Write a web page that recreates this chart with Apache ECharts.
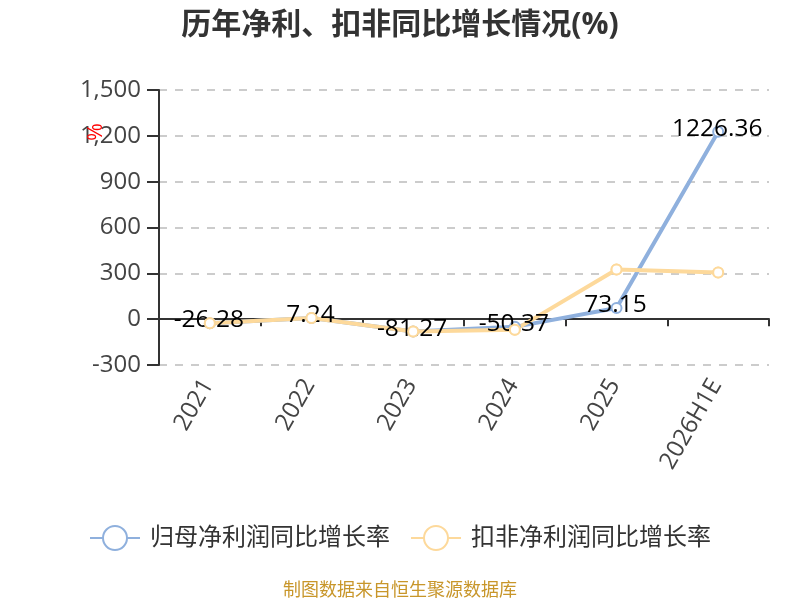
<!DOCTYPE html>
<html><head><meta charset="utf-8">
<style>html,body{margin:0;padding:0;background:#fff}#c{width:800px;height:600px}</style>
<script src="https://cdn.jsdelivr.net/npm/echarts@6/dist/echarts.min.js"></script>
</head><body><div id="c"></div>
<script>
const categories = ['2021','2022','2023','2024','2025','2026H1E'];
const parentGrowth = [-26.28,7.24,-81.27,-50.37,73.15,1226.36];
const nonRecurringGrowth = [-26,7,-81,-70,325,305];
const seriesNames = ['归母净利润同比增长率','扣非净利润同比增长率'];
const colors = ['#8fb0dd','#fdd99b'];
const FONT = '"Open Sans","Noto Sans CJK SC",sans-serif';
const chart = echarts.init(document.getElementById('c'));
chart.setOption({
  animation:false,
  textStyle:{fontFamily:FONT},
  title:{text:'历年净利、扣非同比增长情况(%)',left:'center',top:5,
    textStyle:{fontSize:30,fontWeight:'bold',color:'#333',fontFamily:FONT}},
  legend:{data:seriesNames,bottom:44,left:'center',itemWidth:50,itemHeight:30,itemGap:20,
    textStyle:{fontSize:24,color:'#333',fontFamily:FONT,padding:[0,0,0,5]}},
  grid:{left:159,right:31,top:90,bottom:235},
  xAxis:{type:'category',data:categories,
    axisLine:{onZero:true,lineStyle:{color:'#333',width:2}},
    axisTick:{show:true,inside:false,length:7,lineStyle:{color:'#333',width:2}},
    axisLabel:{rotate:60,fontSize:24,color:'#444',margin:12.5,padding:[0,4,0,0],interval:0,fontFamily:FONT}},
  yAxis:{type:'value',min:-300,max:1500,interval:300,
    axisLine:{show:true,lineStyle:{color:'#333',width:2}},
    axisTick:{show:true,length:12,lineStyle:{color:'#333',width:2}},
    axisLabel:{fontSize:24,color:'#444',margin:18,fontFamily:FONT},
    splitLine:{lineStyle:{type:[8,8],color:'#ccc',width:2}}},
  series:[
    {name:seriesNames[0],type:'line',data:parentGrowth,symbol:'circle',symbolSize:10,showSymbol:true,z:2,
      lineStyle:{color:colors[0],width:4},
      itemStyle:{color:'#fff',borderColor:colors[0],borderWidth:2}},
    {name:seriesNames[1],type:'line',data:nonRecurringGrowth,symbol:'circle',symbolSize:10,showSymbol:true,z:2,
      lineStyle:{color:colors[1],width:4},
      itemStyle:{color:'#fff',borderColor:colors[1],borderWidth:2}},
    {type:'line',data:parentGrowth,symbol:'circle',symbolSize:1,z:4,silent:true,lineStyle:{opacity:0},
      itemStyle:{opacity:0},
      label:{show:true,position:'inside',fontSize:24.5,color:'#000',opacity:1,fontFamily:FONT,
        formatter:p=>String(p.value)},
      labelLayout:{hideOverlap:false,dx:-1,dy:-3}},
    {type:'line',data:nonRecurringGrowth,symbol:'circle',symbolSize:10,z:6,silent:true,
      lineStyle:{opacity:0},
      itemStyle:{color:'#fff',borderColor:colors[1],borderWidth:2}}
  ],
  graphic:[
    {type:'text',x:96,y:132,rotation:Math.PI/2,scaleY:1.2,z:10,style:{text:'%',fontSize:19,fill:'#f00',align:'center',verticalAlign:'middle',fontFamily:'"Liberation Sans"'}},
    {type:'text',left:'center',top:582,style:{text:'制图数据来自恒生聚源数据库',fontSize:18,fill:'#c8962a',fontFamily:FONT}}
  ]
});
</script></body></html>
